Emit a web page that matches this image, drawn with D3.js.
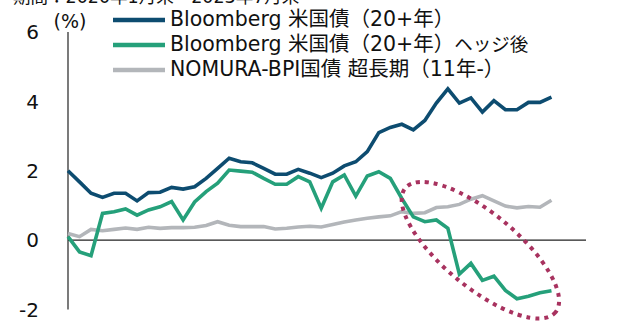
<!DOCTYPE html>
<html lang="ja">
<head>
<meta charset="UTF-8">
<title>米国債 利回り比較</title>
<script src="https://d3js.org/d3.v7.min.js"></script>
<style>
  body { margin: 0; background: #fff; }
  svg { display: block; font-family: "DejaVu Sans", "Noto Sans CJK JP", sans-serif; }
  .tick-label { font-size: 20px; fill: #111; }
  .legend text { font-size: 20.5px; fill: #111; }
  .line { fill: none; stroke-width: 3.6px; stroke-linejoin: miter; }
</style>
</head>
<body>
<svg width="630" height="324"></svg>
<script>
// monthly, 2020/1 .. 2023/7
const months = d3.range(43);
const usLong = [2.00, 1.68, 1.35, 1.23, 1.35, 1.35, 1.13, 1.37, 1.38, 1.52, 1.47, 1.54,
  1.78, 2.07, 2.36, 2.26, 2.23, 2.07, 1.90, 1.90, 2.04, 1.93, 1.80, 1.93,
  2.14, 2.26, 2.55, 3.10, 3.25, 3.34, 3.18, 3.45, 3.95, 4.36, 3.95, 4.10,
  3.69, 4.02, 3.76, 3.76, 3.97, 3.97, 4.12];
const usHedged = [0.10, -0.34, -0.45, 0.77, 0.82, 0.90, 0.72, 0.87, 0.96, 1.11, 0.58, 1.10,
  1.40, 1.64, 2.02, 1.99, 1.96, 1.78, 1.61, 1.61, 1.83, 1.68, 0.92, 1.68,
  1.88, 1.27, 1.85, 1.97, 1.78, 1.20, 0.67, 0.53, 0.58, 0.34, -0.98, -0.67,
  -1.16, -1.04, -1.45, -1.69, -1.62, -1.52, -1.46];
const jgbSuperLong = [0.19, 0.10, 0.31, 0.27, 0.31, 0.35, 0.31, 0.37, 0.34, 0.36, 0.36, 0.37,
  0.42, 0.53, 0.43, 0.39, 0.39, 0.39, 0.32, 0.34, 0.38, 0.40, 0.38, 0.45,
  0.52, 0.58, 0.63, 0.67, 0.70, 0.82, 0.77, 0.79, 0.94, 0.96, 1.03, 1.18,
  1.28, 1.13, 0.98, 0.93, 0.97, 0.95, 1.15];
const yTicks = [-2, 0, 2, 4, 6];
const seriesNames = ["Bloomberg 米国債（20+年）", "Bloomberg 米国債（20+年）", "NOMURA-BPI国債 超長期（11年-）"];
const seriesSuffix = ["", "ヘッジ後", ""];
const seriesColors = ["#0d4c70", "#25a07a", "#b3b6ba"];
// dotted ellipse annotation: two tips in data units (month index, %)
const ellipseTips = [[29.3, 1.50], [42.35, -2.08]];

const svg = d3.select("svg");
const x = d3.scaleLinear().domain([0, 45]).range([68, 586]);
const y = d3.scaleLinear().domain([-2, 6]).range([309.5, 32]);

// period caption, cut off at the top edge as in the source
svg.append("text")
  .attr("x", 13).attr("y", 3)
  .attr("font-size", 17.5).attr("fill", "#111")
  .text("期間：2020年1月末～2023年7月末");

// axes
svg.append("line")
  .attr("x1", x(0)).attr("x2", x(0))
  .attr("y1", y(6)).attr("y2", y(-2))
  .attr("stroke", "#222").attr("stroke-width", 1.2);
svg.append("line")
  .attr("x1", x(0)).attr("x2", x(45))
  .attr("y1", y(0)).attr("y2", y(0))
  .attr("stroke", "#222").attr("stroke-width", 1.2);

svg.selectAll(".tick-label")
  .data(yTicks)
  .join("text")
  .attr("class", "tick-label")
  .attr("x", 39)
  .attr("y", d => y(d))
  .attr("dy", "0.36em")
  .attr("text-anchor", "end")
  .text(d => d);

svg.append("text")
  .attr("x", 70).attr("y", 21)
  .attr("dy", "0.36em")
  .attr("text-anchor", "middle")
  .attr("font-size", 19).attr("fill", "#111")
  .text("(%)");

// series lines
const line = d3.line().x((d, i) => x(months[i])).y(d => y(d));
[jgbSuperLong, usHedged, usLong].forEach((s, k) => {
  svg.append("path")
    .datum(s)
    .attr("class", "line")
    .attr("stroke", seriesColors[2 - k])
    .attr("d", line);
});

// ellipse
const p1 = ellipseTips[0].map((v, i) => i ? y(v) : x(v));
const p2 = ellipseTips[1].map((v, i) => i ? y(v) : x(v));
const cx = (p1[0] + p2[0]) / 2, cy = (p1[1] + p2[1]) / 2;
const rx = Math.hypot(p2[0] - p1[0], p2[1] - p1[1]) / 2;
const ang = Math.atan2(p2[1] - p1[1], p2[0] - p1[0]) * 180 / Math.PI;
svg.append("ellipse")
  .attr("cx", cx).attr("cy", cy)
  .attr("rx", rx).attr("ry", 37)
  .attr("transform", `rotate(${ang},${cx},${cy})`)
  .attr("fill", "none")
  .attr("stroke", "#a8325f")
  .attr("stroke-width", 4)
  .attr("stroke-dasharray", "4 5");

// legend
const legend = svg.append("g").attr("class", "legend");
seriesNames.forEach((name, i) => {
  const ly = 19 + i * 25;
  legend.append("line")
    .attr("x1", 113).attr("x2", 165)
    .attr("y1", ly + 1).attr("y2", ly + 1)
    .attr("stroke", seriesColors[i]).attr("stroke-width", 4.5);
  const t = legend.append("text")
    .attr("x", 170).attr("y", ly)
    .attr("dy", "0.36em")
    .attr("font-size", i === 2 ? 21 : null)
    .text(name);
  if (seriesSuffix[i]) {
    t.append("tspan").attr("font-size", 18.5).text(seriesSuffix[i]);
  }
});
</script>
</body>
</html>
